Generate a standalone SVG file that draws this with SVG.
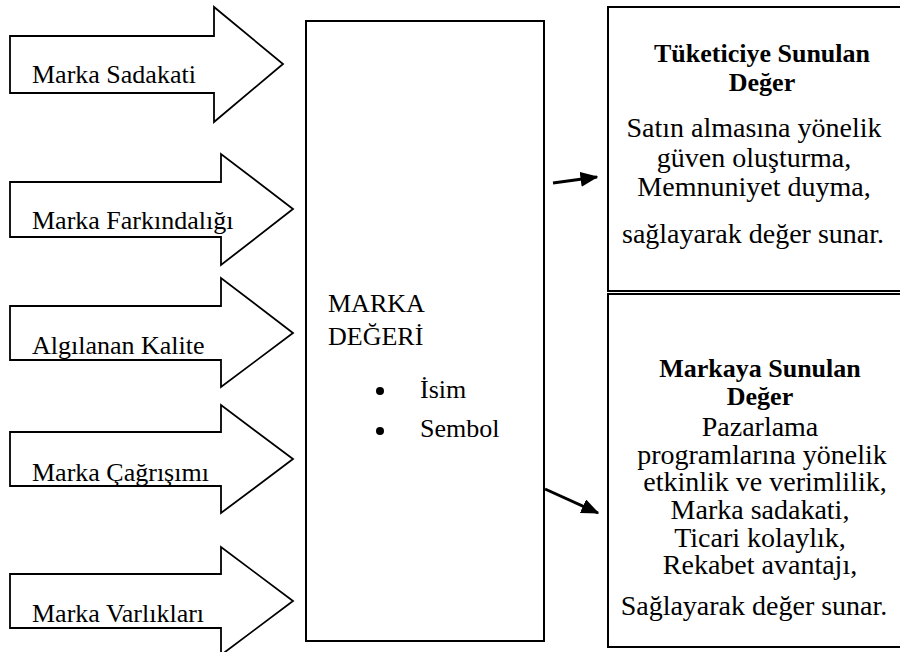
<svg xmlns="http://www.w3.org/2000/svg" width="900" height="652" viewBox="0 0 900 652">
<style>
.arr{fill:#fff;stroke:#000;stroke-width:1.8;stroke-linejoin:miter}
.box{fill:#fff;stroke:#000;stroke-width:2}
.t{font-family:"Liberation Serif","Times New Roman",serif;font-size:26px;fill:#000}
.b{font-family:"Liberation Serif","Times New Roman",serif;font-size:26px;font-weight:bold;fill:#000;text-anchor:middle}
.c{font-family:"Liberation Serif","Times New Roman",serif;font-size:28px;fill:#000;text-anchor:middle}
.con{stroke:#000;stroke-width:3;fill:none}
</style>
<defs>
<marker id="ah" markerWidth="6" markerHeight="5" refX="5.5" refY="2.5" orient="auto" markerUnits="strokeWidth">
<path d="M0,0 L6,2.5 L0,5 Z" fill="#000"/>
</marker>
</defs>
<rect width="900" height="652" fill="#fff"/>
<g id="n-sadakat">
<polygon class="arr" points="10,36 214,36 214,7 283,64 214,122 214,93 10,93"/>
<text class="t" x="32" y="83">Marka Sadakati</text>
</g>
<g id="n-farkindalik">
<polygon class="arr" points="10,182 221,182 221,154 293,209 221,265 221,237 10,237"/>
<text class="t" x="32" y="229">Marka Farkındalığı</text>
</g>
<g id="n-kalite">
<polygon class="arr" points="10,306 221,306 221,278 293,333 221,387 221,360 10,360"/>
<text class="t" x="32" y="354">Algılanan Kalite</text>
</g>
<g id="n-cagrisim">
<polygon class="arr" points="10,432 221,432 221,405 293,459 221,513 221,486 10,486"/>
<text class="t" x="32" y="481">Marka Çağrışımı</text>
</g>
<g id="n-varlik">
<polygon class="arr" points="10,574 221,574 221,547 293,601 221,655 221,628 10,628"/>
<text class="t" x="32" y="622">Marka Varlıkları</text>
</g>
<g id="n-markadegeri">
<rect class="box" x="306" y="21" width="238" height="620"/>
<text class="t" x="328" y="312">MARKA</text>
<text class="t" x="328" y="345">DEĞERİ</text>
<circle cx="380" cy="391" r="4"/>
<text class="t" x="420" y="398">İsim</text>
<circle cx="380" cy="431" r="4"/>
<text class="t" x="420" y="437">Sembol</text>
</g>
<g id="n-tuketici">
<rect class="box" x="608" y="7" width="300" height="284"/>
<text class="b" x="762" y="62">Tüketiciye Sunulan</text>
<text class="b" x="762" y="91">Değer</text>
<text class="c" x="754" y="137">Satın almasına yönelik</text>
<text class="c" x="754" y="167">güven oluşturma,</text>
<text class="c" x="754" y="196">Memnuniyet duyma,</text>
<text class="c" x="753" y="243">sağlayarak değer sunar.</text>
</g>
<g id="n-markaya">
<rect class="box" x="608" y="294" width="300" height="353"/>
<text class="b" x="760" y="377">Markaya Sunulan</text>
<text class="b" x="760" y="405">Değer</text>
<text class="c" x="760" y="436">Pazarlama</text>
<text class="c" x="762" y="464">programlarına yönelik</text>
<text class="c" x="765" y="491">etkinlik ve verimlilik,</text>
<text class="c" x="760" y="519">Marka sadakati,</text>
<text class="c" x="760" y="547">Ticari kolaylık,</text>
<text class="c" x="760" y="574">Rekabet avantajı,</text>
<text class="c" x="754" y="615">Sağlayarak değer sunar.</text>
</g>
<g id="connectors">
<line class="con" x1="553" y1="183" x2="597" y2="177" marker-end="url(#ah)"/>
<line class="con" x1="545" y1="489" x2="598" y2="513" marker-end="url(#ah)"/>
</g>
</svg>
